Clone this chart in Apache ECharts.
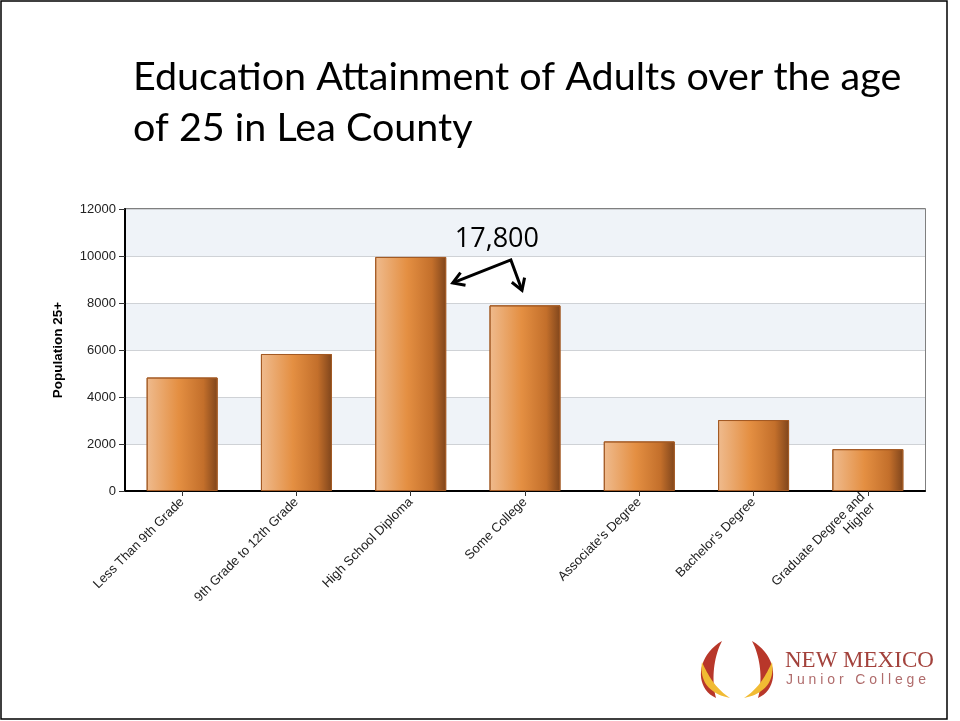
<!DOCTYPE html>
<html><head><meta charset="utf-8">
<script src="https://cdn.jsdelivr.net/npm/echarts@6/dist/echarts.min.js"></script>
<style>html,body{margin:0;padding:0;background:#fff}#c{width:960px;height:721px}</style>
</head><body><div id="c"></div>
<script>
const categories = ["Less Than 9th Grade","9th Grade to 12th Grade","High School Diploma","Some College","Associate's Degree","Bachelor's Degree","Graduate Degree and\nHigher"];
const population = [4830, 5830, 9960, 7900, 2110, 3020, 1780];
const yTicks = [0, 2000, 4000, 6000, 8000, 10000, 12000];
const annotationText = "17,800";

const chart = echarts.init(document.getElementById('c'), null, {renderer:'canvas'});
const barGrad = new echarts.graphic.LinearGradient(0,0,1,0,[
  {offset:0,color:'#efbb8e'},{offset:0.45,color:'#e48f42'},{offset:0.8,color:'#c36f2b'},{offset:1,color:'#7f451c'}]);
chart.setOption({
  animation:false,
  backgroundColor:'#fff',
  title:{text:'Education Attainment of Adults over the age\nof 25 in Lea County',left:128,top:47,
    textStyle:{fontFamily:'Lato',fontSize:39.5,fontWeight:'normal',color:'#000',lineHeight:51}},
  grid:{left:125,right:35,top:209,bottom:230,show:true,borderColor:'#555',borderWidth:1.5,backgroundColor:'transparent'},
  xAxis:{type:'category',data:categories,
    axisLine:{lineStyle:{color:'#000',width:2}},
    axisTick:{show:true,alignWithLabel:true,length:5,lineStyle:{color:'#333'}},
    axisLabel:{rotate:45,interval:0,fontFamily:'Arial',fontSize:13,color:'#222',margin:9,align:'right',lineHeight:14}},
  yAxis:{type:'value',min:0,max:12000,interval:2000,
    name:'Population 25+',nameLocation:'middle',nameGap:60,nameRotate:90,
    nameTextStyle:{fontFamily:'Arial',fontWeight:'bold',fontSize:13.5,color:'#000'},
    axisLine:{show:true,lineStyle:{color:'#000',width:2}},
    axisTick:{show:true,length:6,lineStyle:{color:'#333'}},
    axisLabel:{fontFamily:'Arial',fontSize:13,color:'#222',margin:9,
      formatter:v=>yTicks.includes(v)?String(v):''},
    splitLine:{show:true,lineStyle:{color:'#cfd2d6',width:1}},
    splitArea:{show:true,areaStyle:{color:['#ffffff','#eff3f8']}}},
  series:[{type:'bar',data:population,barWidth:71,
    itemStyle:{color:barGrad,borderColor:'#a35a24',borderWidth:1}}]
});

function bez(p0,p1,p2,p3,n){
  const out=[];
  for(let i=0;i<=n;i++){const t=i/n,u=1-t;
    out.push([u*u*u*p0[0]+3*u*u*t*p1[0]+3*u*t*t*p2[0]+t*t*t*p3[0],
              u*u*u*p0[1]+3*u*u*t*p1[1]+3*u*t*t*p2[1]+t*t*t*p3[1]]);}
  return out;
}
function crescent(a,b1,b2,c,d1,d2){ return bez(a,b1,b2,c,20).concat(bez(c,d1,d2,a,20)); }
function mirror(pts,cx){return pts.map(p=>[2*cx-p[0],p[1]]);}

const g=[];
const p2 = chart.convertToPixel({xAxisIndex:0,yAxisIndex:0},[2,population[2]]);
const p3 = chart.convertToPixel({xAxisIndex:0,yAxisIndex:0},[3,population[3]]);
const vertex = [(p2[0]+p3[0])/2 + 43, p2[1] + 3];
const tip1 = [p2[0]+42, p2[1]+26];
const tip2 = [p3[0]-3, p3[1]-15];
function head(from,to){
  const a=Math.atan2(to[1]-from[1],to[0]-from[0]); const L=13, w=0.55;
  return [[to[0]-L*Math.cos(a-w),to[1]-L*Math.sin(a-w)],to,[to[0]-L*Math.cos(a+w),to[1]-L*Math.sin(a+w)]];
}
const st={stroke:'#000',lineWidth:3,fill:null,lineJoin:'miter'};
g.push(
  {type:'text',x:(p2[0]+p3[0])/2+29,y:p2[1]-4,style:{text:annotationText,font:'27px "Open Sans"',fill:'#000',align:'center',verticalAlign:'bottom'}},
  {type:'polyline',shape:{points:[tip1,vertex,tip2]},style:st},
  {type:'polyline',shape:{points:head(vertex,tip1)},style:st},
  {type:'polyline',shape:{points:head(vertex,tip2)},style:st},
  {type:'rect',shape:{x:1,y:1,width:946,height:718},style:{fill:null,stroke:'#000',lineWidth:1.5},silent:true}
);
// logo
const cx=737;
const red=crescent([722,641],[696,656],[694,688],[716,698],[712,684],[712,660],[722,641]);
const yel=crescent([702,662],[699,682],[710,694],[730,698],[718,690],[710,680],[702,662]);
g.push(
  {type:'polygon',shape:{points:red},style:{fill:'#b8372a'}},
  {type:'polygon',shape:{points:yel},style:{fill:'#f1bb33'}},
  {type:'polygon',shape:{points:mirror(red,cx)},style:{fill:'#b8372a'}},
  {type:'polygon',shape:{points:mirror(yel,cx)},style:{fill:'#f1bb33'}},
  {type:'text',x:785,y:649,style:{text:'NEW MEXICO',font:'23px "Liberation Serif"',fill:'#a3423c'}},
  {type:'text',x:786,y:673,style:{text:'J u n i o r   C o l l e g e',font:'14px "Liberation Sans"',fill:'#b06c6c'}}
);
chart.setOption({graphic:g});
</script></body></html>
